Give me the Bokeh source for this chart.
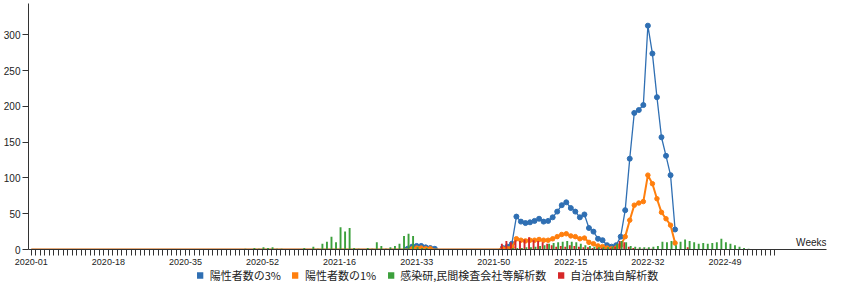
from bokeh.plotting import figure
from bokeh.models import (ColumnDataSource, FixedTicker, Legend, LegendItem, Label, Range1d)
from bokeh.layouts import column
from bokeh.transform import dodge
from bokeh.embed import file_html
from bokeh.resources import INLINE

# ISO weeks shown on the axis (2020-01 ... 2023-08)
year_weeks = [(2020, 53), (2021, 52), (2022, 52), (2023, 8)]
weeks = [f"{y}-{w:02d}" for y, n in year_weeks for w in range(1, n + 1)]
label_step = 17

# 陽性者数の3% (weeks 2020-01 .. 2022-38)
pos3 = ([0] * 83 + [1, 4, 5, 5, 3, 2, 1] + [0] * 14 + [2, 4, 8] +
        [46, 39, 37, 38, 40, 43, 39, 40, 45, 53, 62, 66, 58, 53, 45, 49, 30, 25,
         15, 13, 6, 4, 6, 18, 55, 127, 191, 195, 202, 313, 274, 213, 157, 131, 104, 28])
# 陽性者数の1%
pos1 = ([0] * 83 + [0, 1, 2, 2, 1, 1, 0] + [0] * 14 + [1, 1, 3] +
        [15, 13, 12, 13, 13, 14, 13, 13, 15, 18, 21, 22, 19, 18, 15, 16, 10, 8,
         5, 4, 2, 1, 2, 6, 18, 41, 62, 65, 67, 104, 92, 71, 52, 43, 34, 9])
# 感染研,民間検査会社等解析数
niid = ([0] * 47 + [1, 0, 2, 1, 3, 2, 3, 1, 1] + [0] * 4 +
        [2, 0, 4, 1, 8, 11, 18, 10, 31, 25, 30, 2, 1, 0, 2, 1, 10, 5, 1, 3, 5, 8,
         19, 22, 19, 3, 2, 2, 1, 1] + [0] * 14 +
        [0, 1, 2, 2, 2, 3, 3, 4, 5, 6, 8, 9, 10, 11, 12, 11, 10, 8, 6, 5, 4, 3, 3,
         3, 4, 8, 12, 10, 5, 4, 3, 3, 3, 4, 5, 11, 10, 12, 6, 11, 14, 12, 10, 8, 9,
         8, 9, 10, 15, 10, 8, 6, 4, 2, 1] + [0] * 6)
# 自治体独自解析数
local = ([0] * 104 +
         [8, 12, 10, 13, 12, 14, 17, 13, 12, 10, 8, 6, 4, 5, 4, 6, 5, 4, 3, 3, 2, 2,
          2, 1, 2, 4, 12, 10, 4, 2, 1, 1, 1, 1] + [0] * 7 + [3] + [0] * 19)

legend_labels = ["陽性者数の3%", "陽性者数の1%", "感染研,民間検査会社等解析数", "自治体独自解析数"]
colors = ["#2f6fb3", "#ff7f0e", "#3ca03c", "#d62728"]
y_ticks = [0, 50, 100, 150, 200, 250, 300]

idx = list(range(len(weeks)))
bars = ColumnDataSource(dict(x=idx, niid=niid, local=local))
lines = ColumnDataSource(dict(x=idx[:len(pos3)], p3=pos3, p1=pos1))
dots3 = ColumnDataSource(dict(x=[i for i, v in enumerate(pos3) if v > 0], y=[v for v in pos3 if v > 0]))
dots1 = ColumnDataSource(dict(x=[i for i, v in enumerate(pos1) if v > 0], y=[v for v in pos1 if v > 0]))

p = figure(width=828, height=267, output_backend="svg", toolbar_location=None,
           x_range=Range1d(-0.62, 175.4), y_range=Range1d(0, 344),
           min_border_left=25, min_border_right=2, min_border_top=3, min_border_bottom=0)
p.outline_line_color = None
p.grid.visible = False

p.line("x", "p3", source=lines, line_color=colors[0], line_width=1.3)
p.scatter("x", "y", source=dots3, size=5, fill_color=colors[0], line_color=colors[0])
p.line("x", "p1", source=lines, line_color=colors[1], line_width=2)
p.scatter("x", "y", source=dots1, size=4.5, fill_color=colors[1], line_color=colors[1])

p.vbar(x=dodge("x", -0.21), top="local", width=0.42, source=bars,
       fill_color=colors[3], line_color=None)
p.vbar(x=dodge("x", 0.21), top="niid", width=0.42, source=bars,
       fill_color=colors[2], line_color=None)

axis_color = "#333333"
font = "Liberation Sans"
p.xaxis.ticker = FixedTicker(ticks=idx, minor_ticks=[])
p.xaxis.major_label_overrides = {i: (weeks[i] if i % label_step == 0 else "") for i in idx}
p.yaxis.ticker = FixedTicker(ticks=y_ticks, minor_ticks=[])
for ax in (p.xaxis[0], p.yaxis[0]):
    ax.axis_line_color = axis_color
    ax.major_tick_line_color = axis_color
    ax.minor_tick_line_color = None
    ax.major_tick_out = 6
    ax.major_tick_in = 0
    ax.major_label_text_font = font
    ax.major_label_text_color = "#222222"
p.xaxis.major_label_text_font_size = "9px"
p.yaxis.major_label_text_font_size = "10px"
p.xaxis.major_label_standoff = 3
p.yaxis.major_label_standoff = 2

p.add_layout(Label(x=175.4, y=1.5, text="Weeks", text_align="right", text_baseline="bottom",
                   text_font=font, text_font_size="10px", text_color="#222222"))

# legend strip below the chart
lg = figure(width=828, height=15, output_backend="svg", toolbar_location=None,
            x_range=Range1d(0, 1), y_range=Range1d(0, 1),
            min_border=0, x_axis_type=None, y_axis_type=None)
lg.outline_line_color = None
lg.grid.visible = False
off = ColumnDataSource(dict(l=[5], r=[6], b=[5], t=[6]))
items = []
for lab, col in zip(legend_labels, colors):
    r = lg.quad(left="l", right="r", bottom="b", top="t", source=off,
                fill_color=col, line_color=None)
    items.append(LegendItem(label=lab, renderers=[r]))
legend = Legend(items=items, orientation="horizontal", location="center",
                glyph_width=8, glyph_height=8, label_height=13, label_standoff=6,
                spacing=10, padding=1, margin=0,
                label_text_font="Noto Sans CJK JP", label_text_font_size="11px",
                label_text_color="#222222",
                border_line_color=None, background_fill_alpha=0)
lg.add_layout(legend)

layout = column(p, lg, spacing=0)
open("out.html", "w").write(file_html(layout, INLINE))
